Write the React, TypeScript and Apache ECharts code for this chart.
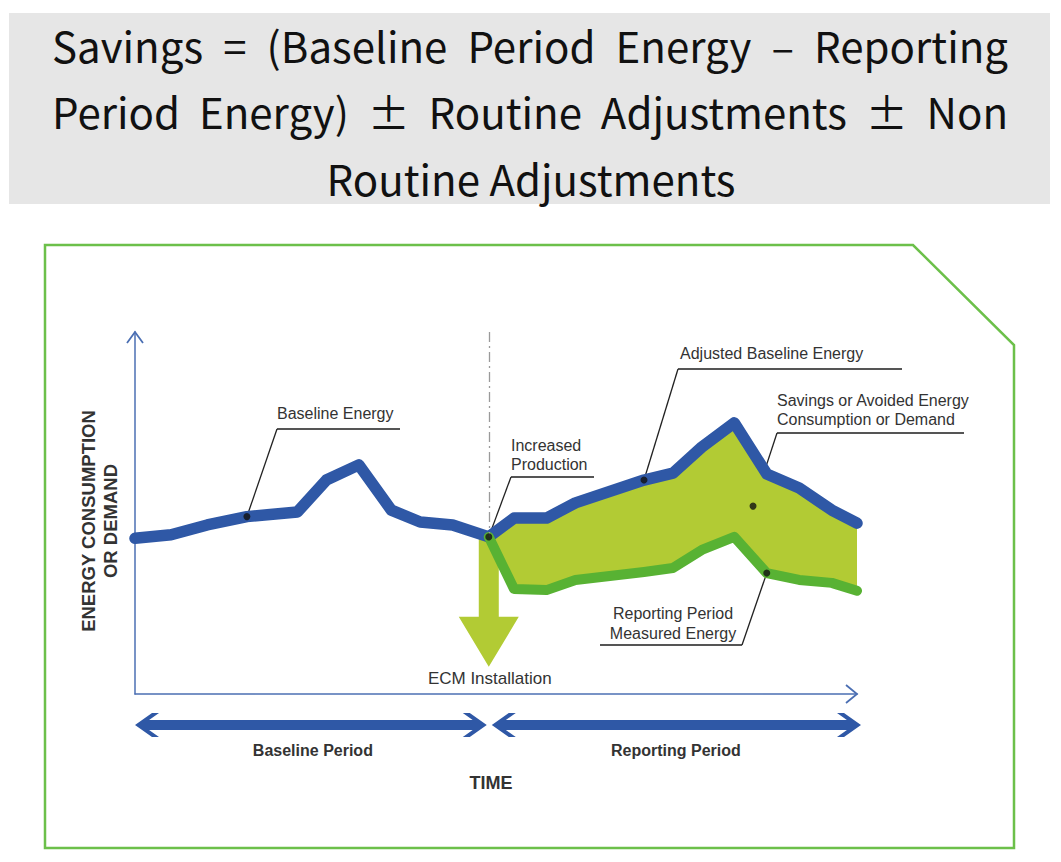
import React, { useEffect, useRef } from 'react';
import * as echarts from 'echarts';

// ---- data ----
const titleLines = [
  'Savings = (Baseline Period Energy – Reporting',
  'Period Energy) ± Routine Adjustments ± Non',
  'Routine Adjustments',
];

// time axis 0..100, energy axis 0..100 (schematic units)
const baselineTime = [0, 5, 10, 15.5, 22.5, 26.5, 31, 35.5, 39.5, 44, 49];
const baselineEnergy = [43, 44, 46.7, 49, 50.3, 59.1, 63.3, 50.8, 47.5, 46.7, 43.4];

const reportingTime = [49, 52.5, 57, 61, 70.5, 74.5, 78.5, 83, 87.5, 92, 96.5, 100];
const adjustedBaselineEnergy = [43.4, 48.6, 48.6, 52.8, 59.1, 61.0, 68.2, 74.9, 60.8, 56.9, 50.8, 47.2];
const measuredEnergy = [43.4, 29.0, 28.7, 31.5, 33.7, 34.8, 39.8, 43.4, 33.4, 31.5, 30.7, 28.5];

const ecmTime = 49;
const ecmArrowTop = 43;
const ecmArrowTip = 7.5;

const baselineDot = [15.5, 49];
const junctionDot = [49, 43.4];
const adjustedDot = [70.5, 59.1];
const savingsDot = [85.6, 51.9];
const measuredDot = [87.5, 33.4];

const periodStart = 0;
const periodSplit = 49;
const periodEnd = 100;

export default function App() {
  const ref = useRef<HTMLDivElement>(null);

  useEffect(() => {
    const el = ref.current as HTMLDivElement;
    const chart = echarts.init(el, null, { renderer: 'svg' });

    const blue = '#2f58a6';
    const green = '#58b233';
    const fillC = '#b2cb34';
    const axisC = '#4b6fb3';
    const txt = '#333333';
    const font = "'Liberation Sans', Arial, sans-serif";

    const pair = (xs: number[], ys: number[]) => xs.map((x, i) => [x, ys[i]]);
    // savings band: adjusted baseline forward, measured energy backward
    const bandRows = reportingTime.map((x, i) => [x, adjustedBaselineEnergy[i], measuredEnergy[i]]);

    const axisCommon = {
      type: 'value',
      min: 0,
      max: 100,
      axisLine: { show: true, onZero: false, lineStyle: { color: axisC, width: 1.5 } },
      axisTick: { show: false },
      axisLabel: { show: false },
      splitLine: { show: false },
    };

    chart.setOption({
      animation: false,
      grid: { left: 135, top: 332, width: 722, height: 362 },
      xAxis: { ...axisCommon },
      yAxis: { ...axisCommon },
      series: [
        {
          type: 'custom',
          name: 'ECM Installation',
          silent: true,
          clip: false,
          data: [[ecmTime, ecmArrowTop, ecmArrowTip]],
          encode: { x: 0, y: [1, 2] },
          renderItem: (params: any, api: any) => {
            const top = api.coord([api.value(0), api.value(1)]);
            const tip = api.coord([api.value(0), api.value(2)]);
            const x = top[0];
            const sw = 10, hw = 30, hl = 50;
            return {
              type: 'polygon',
              shape: {
                points: [
                  [x - sw, top[1]], [x + sw, top[1]], [x + sw, tip[1] - hl], [x + hw, tip[1] - hl],
                  [x, tip[1]], [x - hw, tip[1] - hl], [x - sw, tip[1] - hl],
                ],
              },
              style: { fill: fillC },
            };
          },
        },
        {
          type: 'custom',
          name: 'Savings or Avoided Energy',
          silent: true,
          clip: false,
          data: bandRows,
          encode: { x: 0, y: [1, 2] },
          renderItem: (params: any, api: any) => {
            if (params.dataIndex !== 0) return null;
            const upper = bandRows.map((r) => api.coord([r[0], r[1]]));
            const lower = bandRows.map((r) => api.coord([r[0], r[2]])).reverse();
            return {
              type: 'polygon',
              shape: { points: upper.concat(lower) },
              style: { fill: fillC },
            };
          },
        },
        {
          type: 'line',
          name: 'Baseline Energy',
          data: pair(baselineTime, baselineEnergy),
          showSymbol: false,
          silent: true,
          lineStyle: { color: blue, width: 11.5, cap: 'round', join: 'round' },
          markLine: {
            silent: true,
            symbol: 'none',
            label: { show: false },
            lineStyle: { color: '#9a9a9a', width: 1.3, type: [10, 4, 2, 4] },
            data: [[{ coord: [periodSplit, 100] }, { coord: junctionDot }]],
          },
        },
        {
          type: 'line',
          name: 'Adjusted Baseline Energy',
          data: pair(reportingTime, adjustedBaselineEnergy),
          showSymbol: false,
          silent: true,
          lineStyle: { color: blue, width: 11.5, cap: 'round', join: 'round' },
        },
        {
          type: 'line',
          name: 'Reporting Period Measured Energy',
          data: pair(reportingTime, measuredEnergy),
          showSymbol: false,
          silent: true,
          lineStyle: { color: green, width: 10, cap: 'round', join: 'round' },
        },
        {
          type: 'scatter',
          name: 'callout points',
          data: [baselineDot, junctionDot, adjustedDot, savingsDot, measuredDot],
          symbolSize: 7,
          itemStyle: { color: '#111' },
          silent: true,
          z: 10,
        },
      ],
    });

    const P = (v: number[]) => chart.convertToPixel({ gridIndex: 0 }, v) as number[];

    const origin = P([0, 0]);
    const yTop = P([0, 100]);
    const xEnd = P([100, 0]);

    const line = (x1: number, y1: number, x2: number, y2: number, color: string, w: number) => ({
      type: 'line',
      silent: true,
      shape: { x1, y1, x2, y2 },
      style: { stroke: color, lineWidth: w },
    });

    const text = (t: string, x: number, y: number, size: number, opts: any = {}) => ({
      type: 'text',
      silent: true,
      x,
      y,
      rotation: opts.rotation || 0,
      style: {
        text: t,
        fill: opts.fill || txt,
        font: `${opts.bold ? 'bold ' : ''}${size}px ${opts.family || font}`,
        fontSize: size,
        fontWeight: opts.bold ? 'bold' : 'normal',
        fontFamily: opts.family || font,
        align: opts.align || 'left',
        textAlign: opts.align || 'left',
        verticalAlign: 'middle',
        textVerticalAlign: 'middle',
        lineHeight: opts.lineHeight || Math.round(size * 1.2),
      },
    });

    const dblArrow = (x0: number, x1: number, yc: number) => {
      const h = 5, H = 12, L = 17, t = 7;
      const dx = (L * h) / H;
      return [
        [x0, yc], [x0 + L, yc - H], [x0 + L + t, yc - H], [x0 + t + dx, yc - h],
        [x1 - t - dx, yc - h], [x1 - L - t, yc - H], [x1 - L, yc - H], [x1, yc],
        [x1 - L, yc + H], [x1 - L - t, yc + H], [x1 - t - dx, yc + h], [x0 + t + dx, yc + h],
        [x0 + L + t, yc + H], [x0 + L, yc + H],
      ];
    };

    const pStart = P([periodStart, 0])[0];
    const pSplit = P([periodSplit, 0])[0];
    const pEnd = P([periodEnd, 0])[0];

    const bDot = P(baselineDot);
    const jDot = P(junctionDot);
    const aDot = P(adjustedDot);
    const sDot = P(savingsDot);
    const mDot = P(measuredDot);

    const leaderC = '#222';
    const ulC = '#555';
    const titleFamily = "'Noto Sans CJK KR', sans-serif";
    const titleSize = 42;

    // justified title lines (word positions from measured widths)
    const canvas = document.createElement('canvas');
    const ctx = canvas.getContext('2d') as CanvasRenderingContext2D;
    ctx.font = `${titleSize}px ${titleFamily}`;
    const justify = (lineText: string, x0: number, x1: number, y: number) => {
      const words = lineText.split(' ');
      const widths = words.map((w) => ctx.measureText(w).width);
      const total = widths.reduce((a, b) => a + b, 0);
      const gap = words.length > 1 ? Math.max(8, (x1 - x0 - total) / (words.length - 1)) : 0;
      let x = x0;
      return words.map((w, i) => {
        const g = text(w, x, y, titleSize, { fill: '#111', family: titleFamily });
        x += widths[i] + gap;
        return g;
      });
    };

    const graphic: any[] = [
      // title box
      { type: 'rect', silent: true, z: -10, shape: { x: 9, y: 13, width: 1041, height: 191 }, style: { fill: '#e6e6e6' } },
      ...justify(titleLines[0], 52, 1008, 44),
      ...justify(titleLines[1], 52, 1008, 110),
      text(titleLines[2], 531, 177, titleSize, { align: 'center', fill: '#111', family: titleFamily }),
      // frame
      {
        type: 'polygon',
        silent: true,
        z: -10,
        shape: { points: [[45, 245], [913, 245], [1014, 345], [1014, 848], [45, 848]] },
        style: { fill: 'none', stroke: '#6cc04a', lineWidth: 2.5 },
      },
      // axis arrow heads
      { type: 'polyline', silent: true, shape: { points: [[yTop[0] - 8, yTop[1] + 11], [yTop[0], yTop[1]], [yTop[0] + 8, yTop[1] + 11]] }, style: { stroke: axisC, lineWidth: 1.8, fill: 'none' } },
      { type: 'polyline', silent: true, shape: { points: [[xEnd[0] - 11, xEnd[1] - 9], [xEnd[0], xEnd[1]], [xEnd[0] - 11, xEnd[1] + 9]] }, style: { stroke: axisC, lineWidth: 1.8, fill: 'none' } },
      // y axis title
      text('ENERGY CONSUMPTION\nOR DEMAND', 99, 521, 18.5, { align: 'center', bold: true, rotation: Math.PI / 2, lineHeight: 22 }),
      // period arrows
      { type: 'polygon', silent: true, shape: { points: dblArrow(pStart, pSplit - 2, 725) }, style: { fill: blue } },
      { type: 'polygon', silent: true, shape: { points: dblArrow(pSplit + 3, pEnd + 4, 725) }, style: { fill: blue } },
      text('Baseline Period', (pStart + pSplit) / 2 + 1, 750, 16, { align: 'center', bold: true }),
      text('Reporting Period', (pSplit + pEnd) / 2 + 3, 750, 16, { align: 'center', bold: true }),
      text('TIME', origin[0] + 356, 783, 18, { align: 'center', bold: true }),
      text('ECM Installation', jDot[0] + 1, 678, 17, { align: 'center' }),
      // Baseline Energy callout
      text('Baseline Energy', 277, 413, 16),
      line(277, 429, 400, 429, ulC, 1.8),
      line(277, 429, bDot[0], bDot[1], leaderC, 1.3),
      // Increased Production callout
      text('Increased\nProduction', 511, 454.5, 16, { lineHeight: 19 }),
      line(511, 477, 594, 477, ulC, 1.8),
      line(511, 477, jDot[0], jDot[1], leaderC, 1.3),
      // Adjusted Baseline Energy callout
      text('Adjusted Baseline Energy', 680, 353, 16),
      line(678, 369, 902, 369, ulC, 1.8),
      line(678, 369, aDot[0], aDot[1], leaderC, 1.3),
      // Savings callout
      text('Savings or Avoided Energy\nConsumption or Demand', 777, 409.5, 16, { lineHeight: 19 }),
      line(777, 433, 964, 433, ulC, 1.8),
      line(777, 433, sDot[0], sDot[1], leaderC, 1.3),
      // Measured energy callout
      text('Reporting Period\nMeasured Energy', 673, 623, 16, { align: 'center', lineHeight: 20 }),
      line(600, 645, 742, 645, ulC, 1.8),
      line(742, 645, mDot[0], mDot[1], leaderC, 1.3),
    ];

    chart.setOption({ graphic });

    return () => {
      chart.dispose();
    };
  }, []);

  return (
    <div
      ref={ref}
      style={{ position: 'absolute', left: 0, top: 0, width: 1061, height: 862, background: '#ffffff' }}
    />
  );
}
